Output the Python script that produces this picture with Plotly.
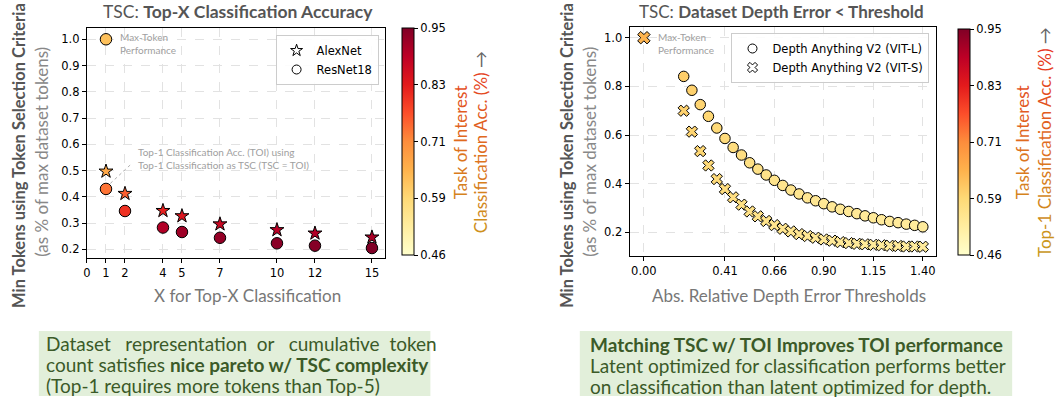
import plotly.graph_objects as go

W, H = 1058, 404

# ---------------- data ----------------
top_x = [1, 2, 4, 5, 7, 10, 12, 15]
alexnet_tokens = [0.497, 0.412, 0.347, 0.327, 0.296, 0.274, 0.261, 0.246]
alexnet_acc = [0.66, 0.75, 0.82, 0.84, 0.87, 0.89, 0.90, 0.91]
resnet_tokens = [0.430, 0.346, 0.283, 0.266, 0.244, 0.223, 0.214, 0.205]
resnet_acc = [0.73, 0.80, 0.90, 0.92, 0.93, 0.94, 0.945, 0.95]
left_max_x = [1]
left_max_tokens = [1.0]
left_max_acc = [0.62]

depth_thresholds = [0.200, 0.241, 0.283, 0.324, 0.366, 0.407, 0.448, 0.490, 0.531, 0.572,
                    0.614, 0.655, 0.697, 0.738, 0.779, 0.821, 0.862, 0.903, 0.945, 0.986,
                    1.028, 1.069, 1.110, 1.152, 1.193, 1.234, 1.276, 1.317, 1.359, 1.400]
vitl_tokens = [0.841, 0.784, 0.725, 0.677, 0.629, 0.586, 0.549, 0.518, 0.486, 0.460,
               0.436, 0.414, 0.393, 0.374, 0.358, 0.342, 0.330, 0.318, 0.305, 0.295,
               0.286, 0.277, 0.268, 0.260, 0.252, 0.245, 0.240, 0.234, 0.229, 0.223]
vitl_acc = [0.600, 0.595, 0.590, 0.585, 0.580, 0.575, 0.570, 0.566, 0.562, 0.558,
            0.555, 0.552, 0.549, 0.546, 0.544, 0.542, 0.540, 0.538, 0.536, 0.535,
            0.534, 0.533, 0.532, 0.531, 0.530, 0.530, 0.529, 0.529, 0.528, 0.528]
vits_tokens = [0.700, 0.614, 0.534, 0.475, 0.419, 0.378, 0.344, 0.314, 0.286, 0.266,
               0.247, 0.230, 0.215, 0.204, 0.193, 0.185, 0.178, 0.171, 0.166, 0.160,
               0.156, 0.153, 0.151, 0.149, 0.147, 0.145, 0.144, 0.142, 0.142, 0.141]
vits_acc = [0.595, 0.590, 0.585, 0.580, 0.575, 0.570, 0.566, 0.562, 0.558, 0.555,
            0.552, 0.549, 0.546, 0.544, 0.542, 0.540, 0.538, 0.536, 0.535, 0.534,
            0.533, 0.532, 0.531, 0.530, 0.530, 0.529, 0.529, 0.528, 0.528, 0.528]
right_max_x = [0.0]
right_max_tokens = [1.0]
right_max_acc = [0.64]

left_xticks = [0, 1, 2, 4, 5, 7, 10, 12, 15]
left_yticks = [0.2, 0.3, 0.4, 0.5, 0.6, 0.7, 0.8, 0.9, 1.0]
right_xtickvals = [0.0, 0.407, 0.655, 0.903, 1.152, 1.400]
right_xticktext = ["0.00", "0.41", "0.66", "0.90", "1.15", "1.40"]
right_yticks = [0.2, 0.4, 0.6, 0.8, 1.0]
cbar_tickvals = [0.46, 0.5825, 0.705, 0.8275, 0.95]
cbar_ticktext = ["0.46", "0.59", "0.71", "0.83", "0.95"]
CMIN, CMAX = 0.46, 0.95

# ---------------- style ----------------
YLORRD = [[0.0, "#ffffcc"], [0.125, "#ffeda0"], [0.25, "#fed976"], [0.375, "#feb24c"],
          [0.5, "#fd8d3c"], [0.625, "#fc4e2a"], [0.75, "#e31a1c"], [0.875, "#bd0026"],
          [1.0, "#800026"]]
TXT = "Lato"
TICKF = dict(family="DejaVu Sans", size=11.5, color="black")


def px(x, y):
    return x / W, 1 - y / H


fig = go.Figure()

mk_line = dict(color="black", width=1)

# left panel
fig.add_trace(go.Scatter(x=top_x, y=alexnet_tokens, mode="markers", showlegend=False,
                         marker=dict(symbol="star", size=10.5, color=alexnet_acc, coloraxis="coloraxis",
                                     line=mk_line), xaxis="x", yaxis="y"))
fig.add_trace(go.Scatter(x=top_x, y=resnet_tokens, mode="markers", showlegend=False,
                         marker=dict(symbol="circle", size=11.5, color=resnet_acc, coloraxis="coloraxis",
                                     line=mk_line), xaxis="x", yaxis="y"))
fig.add_trace(go.Scatter(x=left_max_x, y=left_max_tokens, mode="markers", showlegend=False,
                         marker=dict(symbol="circle", size=11.5, color=left_max_acc, coloraxis="coloraxis",
                                     line=mk_line), xaxis="x", yaxis="y"))
fig.add_trace(go.Scatter(x=[None], y=[None], mode="markers", name="AlexNet", legend="legend",
                         marker=dict(symbol="star", size=9, color="white", line=mk_line),
                         xaxis="x", yaxis="y"))
fig.add_trace(go.Scatter(x=[None], y=[None], mode="markers", name="ResNet18", legend="legend",
                         marker=dict(symbol="circle", size=9, color="white", line=mk_line),
                         xaxis="x", yaxis="y"))

# right panel
fig.add_trace(go.Scatter(x=depth_thresholds, y=vitl_tokens, mode="markers", showlegend=False,
                         marker=dict(symbol="circle", size=10.5, color=vitl_acc, coloraxis="coloraxis2",
                                     line=mk_line), xaxis="x2", yaxis="y2"))
fig.add_trace(go.Scatter(x=depth_thresholds, y=vits_tokens, mode="markers", showlegend=False,
                         marker=dict(symbol="x", size=10, color=vits_acc, coloraxis="coloraxis2",
                                     line=mk_line), xaxis="x2", yaxis="y2"))
fig.add_trace(go.Scatter(x=right_max_x, y=right_max_tokens, mode="markers", showlegend=False,
                         marker=dict(symbol="x", size=11, color=right_max_acc, coloraxis="coloraxis2",
                                     line=mk_line), xaxis="x2", yaxis="y2"))
fig.add_trace(go.Scatter(x=[None], y=[None], mode="markers", name="Depth Anything V2 (VIT-L)",
                         legend="legend2",
                         marker=dict(symbol="circle", size=9, color="white", line=mk_line),
                         xaxis="x2", yaxis="y2"))
fig.add_trace(go.Scatter(x=[None], y=[None], mode="markers", name="Depth Anything V2 (VIT-S)",
                         legend="legend2",
                         marker=dict(symbol="x", size=9, color="white", line=mk_line),
                         xaxis="x2", yaxis="y2"))

axis_common = dict(showline=True, linecolor="black", linewidth=1.2, mirror=True,
                   ticks="outside", ticklen=4, tickcolor="black", tickfont=TICKF,
                   showgrid=True, gridcolor="#e2e2e2", griddash="dash", gridwidth=1,
                   zeroline=False)

cbar_common = dict(thickness=12, thicknessmode="pixels", lenmode="fraction",
                   xanchor="left", yanchor="middle", xpad=0, ypad=0,
                   outlinecolor="black", outlinewidth=1, ticks="outside", ticklen=4,
                   tickcolor="black", tickfont=TICKF, tickvals=cbar_tickvals,
                   ticktext=cbar_ticktext)

fig.update_layout(
    width=W, height=H, margin=dict(l=0, r=0, t=0, b=0),
    paper_bgcolor="white", plot_bgcolor="white",
    xaxis=dict(domain=[83.3 / W, 382.7 / W], range=[0, 15.7], tickvals=left_xticks,
               anchor="y", **axis_common),
    yaxis=dict(domain=[1 - 258 / H, 1 - 28 / H], range=[0.167, 1.043], tickvals=left_yticks,
               tickformat=".1f", anchor="x", **axis_common),
    xaxis2=dict(domain=[628 / W, 936 / W], range=[-0.0715, 1.4685], tickvals=right_xtickvals,
                ticktext=right_xticktext, anchor="y2", **axis_common),
    yaxis2=dict(domain=[1 - 256 / H, 1 - 27 / H], range=[0.103, 1.044], tickvals=right_yticks,
                tickformat=".1f", anchor="x2", **axis_common),
    coloraxis=dict(colorscale=YLORRD, cmin=CMIN, cmax=CMAX,
                   colorbar=dict(x=400 / W, y=1 - 141.5 / H, len=227 / H, **cbar_common)),
    coloraxis2=dict(colorscale=YLORRD, cmin=CMIN, cmax=CMAX,
                    colorbar=dict(x=958 / W, y=1 - 142 / H, len=226 / H, **cbar_common)),
    legend=dict(x=376 / W, y=1 - 35 / H, xanchor="right", yanchor="top",
                bordercolor="#cccccc", borderwidth=1, bgcolor="rgba(255,255,255,0.9)",
                font=dict(family="DejaVu Sans", size=11.5, color="black"),
                tracegroupgap=0, itemwidth=30),
    legend2=dict(x=929 / W, y=1 - 33 / H, xanchor="right", yanchor="top",
                 bordercolor="#cccccc", borderwidth=1, bgcolor="rgba(255,255,255,0.9)",
                 font=dict(family="DejaVu Sans", size=11.5, color="black"),
                 tracegroupgap=0, itemwidth=30),
)

ann = []


def add_text(text, x, y, size, color, xanchor="center", yanchor="middle", angle=0, align="center"):
    xp, yp = px(x, y)
    ann.append(dict(text=text, x=xp, y=yp, xref="paper", yref="paper", showarrow=False,
                    xanchor=xanchor, yanchor=yanchor, textangle=angle, align=align,
                    font=dict(family=TXT, size=size, color=color)))


# titles
add_text("TSC: <b>Top-X Classification Accuracy</b>", 235, 11, 17.5, "#555555")
add_text("TSC: <b>Dataset Depth Error &lt; Threshold</b>", 780, 11, 17, "#555555")
# x titles
add_text("X for Top-X Classification", 244, 295, 17, "#777777")
add_text("Abs. Relative Depth Error Thresholds", 788, 295, 17, "#777777")
# y titles
for xx in (15, 565):
    add_text("<b>Min Tokens using Token Selection Criteria</b>", xx, 155, 16.5, "#555555", angle=-90)
for xx in (37, 587):
    add_text("(as % of max dataset tokens)", xx, 152, 17, "#888888", angle=-90)

# in-plot notes
add_text("Max-Token<br>Performance", 114, 43.5, 10, "#a0a0a0", xanchor="left", align="left")
add_text("Max-Token<br>Performance", 654, 43.5, 10, "#a0a0a0", xanchor="left", align="left")
add_text("Top-1 Classification Acc. (TOI) using<br>Top-1 Classification as TSC (TSC = TOI)",
         133, 158, 10, "#a0a0a0", xanchor="left", align="left")


# gradient colorbar titles
def lerp(c1, c2, t):
    return tuple(int(round(a + (b - a) * t)) for a, b in zip(c1, c2))


GOLD, ORANGE, RED = (201, 154, 28), (223, 111, 30), (232, 48, 30)


def grad_color(ypos):
    t = (270 - ypos) / 250.0
    t = max(0.0, min(1.0, t))
    if t < 0.5:
        c = lerp(GOLD, ORANGE, t / 0.5)
    else:
        c = lerp(ORANGE, RED, (t - 0.5) / 0.5)
    return "#%02x%02x%02x" % c


def grad_text(s, yc, length):
    n = len(s)
    out = []
    for i, ch in enumerate(s):
        f = (i + 0.5) / n
        ypos = yc + length / 2 - f * length
        c = grad_color(ypos)
        ch = {"<": "&lt;", ">": "&gt;", "&": "&amp;"}.get(ch, ch)
        out.append('<span style="color:%s">%s</span>' % (c, ch))
    return "".join(out)


add_text(grad_text("Task of Interest", 142, 130), 458, 142, 17, "#c99a1c", angle=-90)
add_text(grad_text("Classification Acc. (%)", 150, 195) + ' <span style="color:#666666">→</span>',
         478, 142, 17, "#c99a1c", angle=-90)
add_text(grad_text("Task of Interest", 142, 130), 1022, 142, 17, "#c99a1c", angle=-90)
add_text(grad_text("Top-1 Classification Acc. (%)", 150, 245) + ' <span style="color:#666666">→</span>',
         1044, 142, 17, "#c99a1c", angle=-90)

# bottom text boxes
shapes = []
for (x0, x1, y0, y1) in ((35, 428, 331, 396), (578, 1012, 331, 396)):
    a0, b0 = px(x0, y1)
    a1, b1 = px(x1, y0)
    shapes.append(dict(type="rect", xref="paper", yref="paper", x0=a0, x1=a1, y0=b0, y1=b1,
                       fillcolor="#e2efda", line=dict(width=0), layer="below"))

GREEN = "#3b5a28"
S2 = " &nbsp;&nbsp;"
S1 = " &nbsp;"
left_lines = ["Dataset" + S2 + "representation" + S1 + "or" + S2 + "cumulative" + S1 + "token",
              "count satisfies <b>nice pareto w/ TSC complexity</b>",
              "(Top-1 requires more tokens than Top-5)"]
right_lines = ["<b>Matching TSC w/ TOI Improves TOI performance</b>",
               "Latent optimized for classification performs better",
               "on classification than latent optimized for depth."]
for i, t in enumerate(left_lines):
    add_text(t, 40, 343 + 21 * i, 19, GREEN, xanchor="left", align="left")
for i, t in enumerate(right_lines):
    add_text(t, 586, 344 + 21 * i, 19, GREEN, xanchor="left", align="left")

# dashed pointer line
shapes.append(dict(type="line", xref="x", yref="y", x0=1.23, y0=0.451, x1=2.36, y1=0.527,
                   line=dict(color="#b0b0b0", width=1, dash="dot")))

fig.update_layout(annotations=ann, shapes=shapes)
fig.write_html("out.html", config={"displayModeBar": False},
               post_script="document.body.style.margin='0';document.body.style.padding='0';")
